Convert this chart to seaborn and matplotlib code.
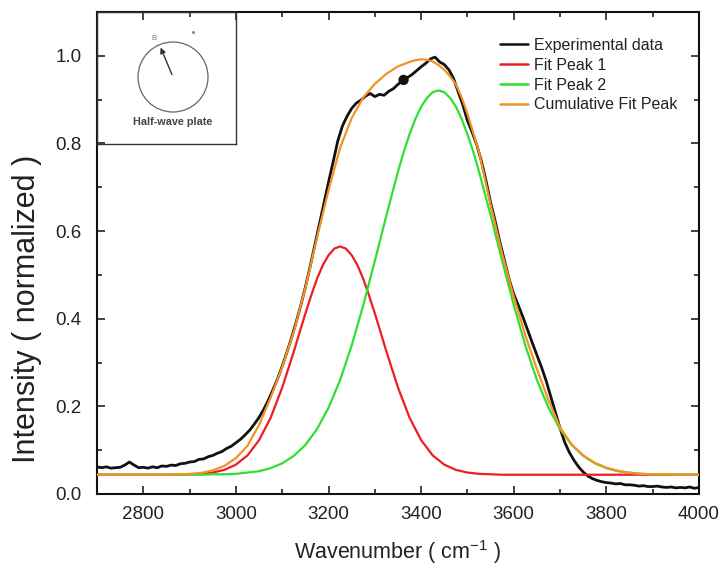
import numpy as np
import pandas as pd
import matplotlib
matplotlib.use("Agg")
import matplotlib.pyplot as plt
import seaborn as sns
from matplotlib.patches import Circle
from matplotlib.ticker import MultipleLocator

# ---------------- data ----------------
exp_x = list(range(2700, 4001, 10))
exp_y = [
    0.062, 0.060, 0.062, 0.059, 0.060, 0.061, 0.066, 0.073, 0.066, 0.060,
    0.061, 0.059, 0.062, 0.060, 0.064, 0.063, 0.066, 0.065, 0.069, 0.070,
    0.073, 0.074, 0.079, 0.080, 0.085, 0.088, 0.093, 0.097, 0.104, 0.109,
    0.117, 0.125, 0.135, 0.146, 0.160, 0.175, 0.193, 0.214, 0.238, 0.263,
    0.292, 0.323, 0.356, 0.392, 0.430, 0.472, 0.518, 0.566, 0.615, 0.663,
    0.712, 0.758, 0.806, 0.840, 0.862, 0.880, 0.892, 0.899, 0.908, 0.914,
    0.907, 0.912, 0.910, 0.919, 0.925, 0.935, 0.943, 0.950, 0.957, 0.966,
    0.975, 0.983, 0.993, 0.997, 0.986, 0.980, 0.968, 0.948, 0.918, 0.888,
    0.852, 0.826, 0.797, 0.760, 0.715, 0.665, 0.622, 0.575, 0.532, 0.490,
    0.456, 0.430, 0.403, 0.374, 0.345, 0.317, 0.289, 0.258, 0.222, 0.186,
    0.150, 0.118, 0.095, 0.077, 0.062, 0.050, 0.041, 0.035, 0.031, 0.028,
    0.026, 0.025, 0.023, 0.024, 0.021, 0.021, 0.020, 0.018, 0.019, 0.017,
    0.017, 0.018, 0.016, 0.015, 0.016, 0.014, 0.015, 0.014, 0.016, 0.013,
    0.015,
]

peak1_x = [2700, 2800, 2875, 2900, 2925, 2950, 2975, 3000, 3025, 3050,
           3075, 3100, 3125, 3137.5, 3150, 3162.5, 3175, 3187.5, 3200, 3212.5,
           3225, 3237.5, 3250, 3262.5, 3275, 3287.5, 3300, 3312.5, 3325, 3350,
           3375, 3400, 3425, 3450, 3475, 3500, 3525, 3550, 3575, 3700,
           3850, 4000]
peak1_y = [0.044, 0.044, 0.044, 0.045, 0.046, 0.049, 0.055, 0.067, 0.088, 0.123,
           0.174, 0.243, 0.325, 0.369, 0.412, 0.453, 0.491, 0.522, 0.545, 0.560,
           0.565, 0.560, 0.545, 0.522, 0.491, 0.453, 0.412, 0.369, 0.325, 0.243,
           0.174, 0.123, 0.088, 0.067, 0.055, 0.049, 0.046, 0.045, 0.044, 0.044,
           0.044, 0.044]

peak2_x = [2700, 2800, 2900, 2925, 2950, 2975, 3000, 3025, 3050, 3075,
           3100, 3125, 3150, 3175, 3200, 3225, 3250, 3275, 3300, 3325,
           3350, 3362.5, 3375, 3387.5, 3400, 3412.5, 3425, 3437.5, 3450, 3462.5,
           3475, 3487.5, 3500, 3512.5, 3525, 3550, 3575, 3600, 3625, 3650,
           3675, 3700, 3725, 3750, 3775, 3800, 3825, 3850, 3875, 3900,
           3925, 3950, 4000]
peak2_y = [0.044, 0.044, 0.044, 0.044, 0.045, 0.045, 0.046, 0.049, 0.052, 0.059,
           0.070, 0.087, 0.112, 0.148, 0.197, 0.260, 0.339, 0.431, 0.532, 0.636,
           0.736, 0.781, 0.821, 0.856, 0.884, 0.904, 0.917, 0.921, 0.917, 0.904,
           0.884, 0.856, 0.821, 0.781, 0.736, 0.636, 0.532, 0.431, 0.339, 0.260,
           0.197, 0.148, 0.112, 0.087, 0.070, 0.059, 0.052, 0.049, 0.046, 0.045,
           0.045, 0.044, 0.044]

cumulative_x = [2700, 2800, 2850, 2875, 2900, 2925, 2950, 2975, 3000, 3025,
                3050, 3075, 3100, 3125, 3150, 3175, 3200, 3225, 3250, 3275,
                3300, 3325, 3350, 3375, 3387.5, 3400, 3412.5, 3425, 3437.5, 3450,
                3462.5, 3475, 3487.5, 3500, 3525, 3550, 3575, 3600, 3625, 3650,
                3675, 3700, 3725, 3750, 3775, 3800, 3825, 3850, 3875, 3900,
                3925, 3950, 4000]
cumulative_y = [0.044, 0.044, 0.044, 0.045, 0.046, 0.048, 0.054, 0.064, 0.082, 0.110,
                0.158, 0.220, 0.290, 0.370, 0.470, 0.585, 0.693, 0.790, 0.858, 0.905,
                0.936, 0.959, 0.976, 0.986, 0.990, 0.992, 0.991, 0.987, 0.979, 0.968,
                0.953, 0.935, 0.905, 0.868, 0.780, 0.660, 0.548, 0.450, 0.362, 0.285,
                0.214, 0.152, 0.113, 0.088, 0.071, 0.060, 0.053, 0.048, 0.046, 0.045,
                0.045, 0.044, 0.044]

dot_x = [3362]
dot_y = [0.945]

series_labels = ["Experimental data", "Fit Peak 1", "Fit Peak 2", "Cumulative Fit Peak"]
series_colors = ["#111111", "#ee1c25", "#2fe02f", "#f39226"]

# ---------------- style ----------------
sns.set_theme(style="ticks")
plt.rcParams["font.family"] = ["Liberation Sans", "DejaVu Sans"]
plt.rcParams["mathtext.fontset"] = "custom"
plt.rcParams["mathtext.rm"] = "Liberation Sans"
plt.rcParams["mathtext.it"] = "Liberation Sans:italic"
plt.rcParams["mathtext.bf"] = "Liberation Sans:bold"

W, H = 723, 569
fig = plt.figure(figsize=(W / 100, H / 100), dpi=100)
ax = fig.add_axes([97 / W, 1 - 494 / H, 602 / W, 482 / H])

exp_df = pd.DataFrame({"x": exp_x, "y": exp_y})
p1_df = pd.DataFrame({"x": peak1_x, "y": peak1_y})
p2_df = pd.DataFrame({"x": peak2_x, "y": peak2_y})
cum_df = pd.DataFrame({"x": cumulative_x, "y": cumulative_y})

sns.lineplot(data=exp_df, x="x", y="y", ax=ax, color=series_colors[0], lw=2.0,
             label=series_labels[0], zorder=3)
sns.lineplot(data=p1_df, x="x", y="y", ax=ax, color=series_colors[1], lw=1.6,
             label=series_labels[1], zorder=4)
sns.lineplot(data=p2_df, x="x", y="y", ax=ax, color=series_colors[2], lw=1.6,
             label=series_labels[2], zorder=4)
sns.lineplot(data=cum_df, x="x", y="y", ax=ax, color=series_colors[3], lw=1.6,
             label=series_labels[3], zorder=5)
sns.scatterplot(x=dot_x, y=dot_y, ax=ax, color="#111111", s=55, edgecolor="none",
                zorder=6, legend=False)

ax.set_xlim(2700, 4000)
ax.set_ylim(0, 1.1)
ax.xaxis.set_major_locator(MultipleLocator(200))
ax.xaxis.set_minor_locator(MultipleLocator(100))
ax.yaxis.set_major_locator(MultipleLocator(0.2))
ax.yaxis.set_minor_locator(MultipleLocator(0.1))
ax.tick_params(which="both", direction="in", top=True, right=True,
               color="#111111", width=1.1, labelcolor="#222222", labelsize=13.5)
ax.tick_params(which="major", length=6)
ax.tick_params(which="minor", length=3.5)
ax.tick_params(axis="x", pad=8.5)
ax.tick_params(axis="y", pad=11)
for s in ax.spines.values():
    s.set_linewidth(1.5)
    s.set_color("#111111")

ax.set_xlabel("Wavenumber ( cm$^{\\mathregular{-1}}$ )", fontsize=15.5, color="#222222",
              labelpad=11)
ax.set_ylabel("Intensity ( normalized )", fontsize=22, color="#222222")
ax.yaxis.set_label_coords(-0.092, 0.384)

h, l = ax.get_legend_handles_labels()
leg = ax.legend(h, l, loc="upper left", bbox_to_anchor=(500 / W, 1 - 38 / H),
                bbox_transform=fig.transFigure, frameon=False, fontsize=11.5,
                handlelength=1.75, handletextpad=0.35, labelspacing=0.3,
                borderpad=0, borderaxespad=0)
for line in leg.get_lines():
    line.set_linewidth(1.8)
for t in leg.get_texts():
    t.set_color("#222222")

# ---------------- inset ----------------
ins = fig.add_axes([97 / W, 1 - 144 / H, 139 / W, 132 / H])
ins.set_facecolor("none")
ins.set_xlim(0, 139)
ins.set_ylim(0, 132)
ins.set_xticks([])
ins.set_yticks([])
for s in ins.spines.values():
    s.set_linewidth(1.0)
    s.set_color("#333333")
ins.add_patch(Circle((76, 67), 35, fill=False, ec="#666666", lw=0.9))
ins.annotate("", xy=(62.5, 99), xytext=(76, 67),
             arrowprops=dict(arrowstyle="-|>", color="#333333", lw=1.0, mutation_scale=8))
ins.text(57, 105, "B", fontsize=5.5, color="#777777", ha="center", va="center")
ins.plot([95.7], [112.3], marker="o", ms=1.2, color="#888888")
ins.text(76, 22, "Half-wave plate", fontsize=7.8, color="#444444", ha="center",
         va="center", fontweight="bold")

fig.savefig("out.png", dpi=100)
